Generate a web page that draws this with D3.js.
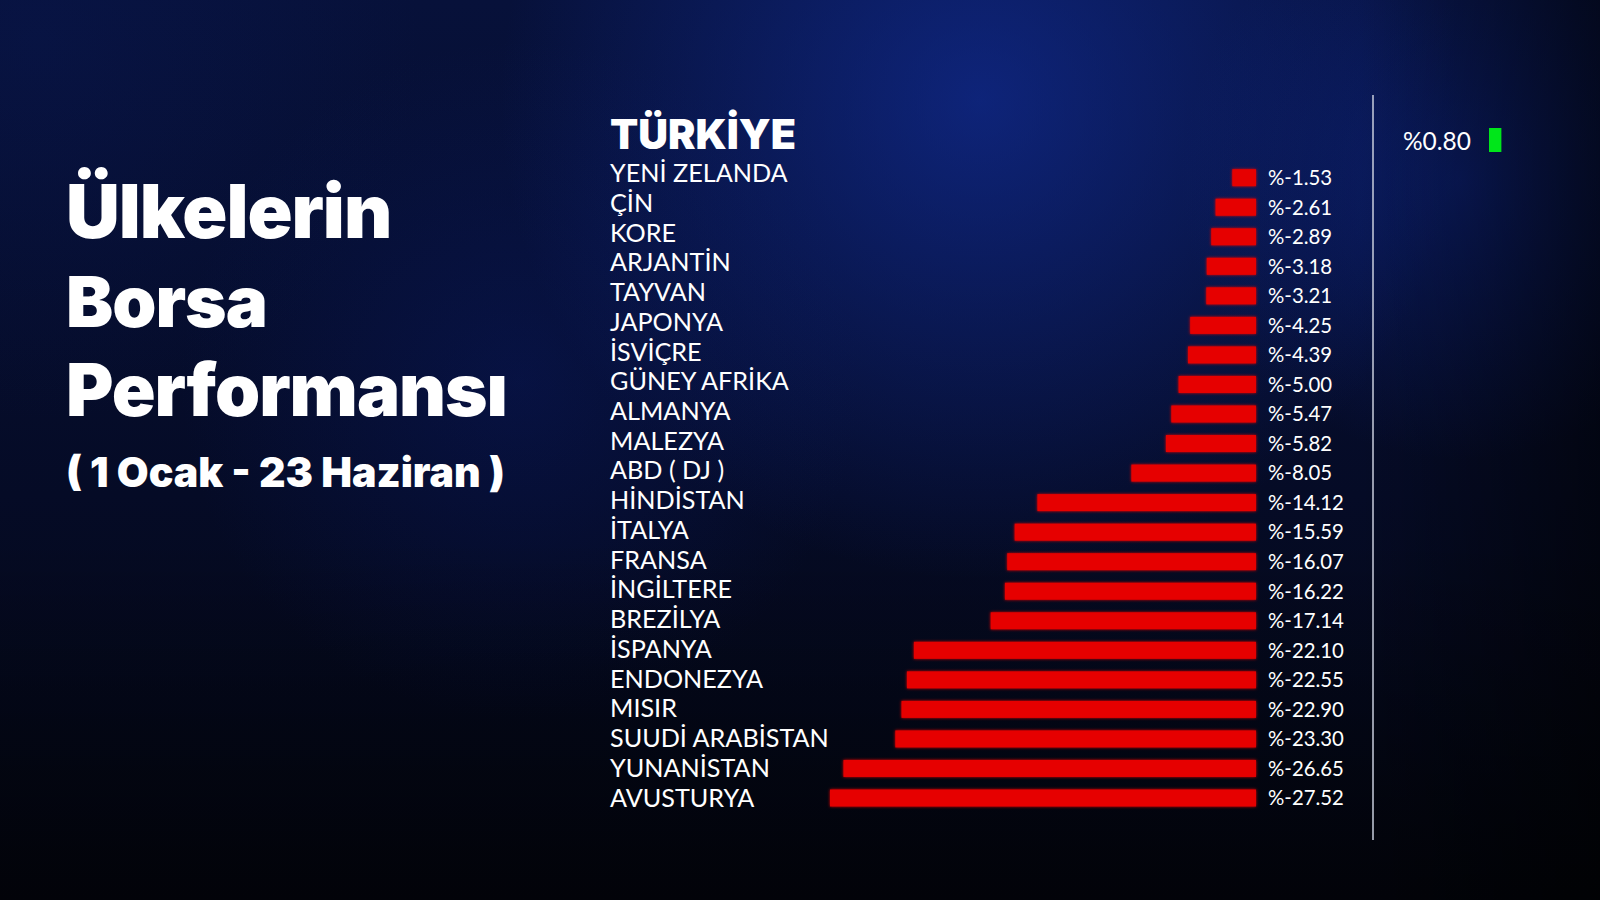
<!DOCTYPE html>
<html>
<head>
<meta charset="utf-8">
<script src="https://cdn.jsdelivr.net/npm/d3@7"></script>
<style>
  html, body { margin: 0; padding: 0; background: #050b22; }
  svg { display: block; }
</style>
</head>
<body>
<svg id="chart" width="1600" height="900"></svg>
<script>
// ---- data ----
const titleLines = ["Ülkelerin", "Borsa", "Performansı"];
const subtitle = "( 1 Ocak - 23 Haziran )";
const highlightCountry = "TÜRKİYE";
const highlightValue = 0.80;
const countries = ["YENİ ZELANDA", "ÇİN", "KORE", "ARJANTİN", "TAYVAN", "JAPONYA", "İSVİÇRE",
  "GÜNEY AFRİKA", "ALMANYA", "MALEZYA", "ABD ( DJ )", "HİNDİSTAN", "İTALYA", "FRANSA",
  "İNGİLTERE", "BREZİLYA", "İSPANYA", "ENDONEZYA", "MISIR", "SUUDİ ARABİSTAN", "YUNANİSTAN", "AVUSTURYA"];
const values = [-1.53, -2.61, -2.89, -3.18, -3.21, -4.25, -4.39, -5.00, -5.47, -5.82, -8.05,
  -14.12, -15.59, -16.07, -16.22, -17.14, -22.10, -22.55, -22.90, -23.30, -26.65, -27.52];

const locale = d3.formatLocale({decimal: ".", thousands: ",", grouping: [3], currency: ["", ""], minus: "-"});
const fmt = v => "%" + locale.format(".2f")(v);

const svg = d3.select("#chart");
const W = 1600, H = 900;

// ---- background ----
const defs = svg.append("defs");
const base = defs.append("linearGradient").attr("id", "bgBase").attr("x1", 0).attr("y1", 0).attr("x2", 0).attr("y2", 1);
base.append("stop").attr("offset", 0).attr("stop-color", "#07113a");
base.append("stop").attr("offset", 0.55).attr("stop-color", "#050b26");
base.append("stop").attr("offset", 1).attr("stop-color", "#030612");

function radial(id, cx, cy, r, color, op) {
  const g = defs.append("radialGradient").attr("id", id)
    .attr("gradientUnits", "userSpaceOnUse").attr("cx", cx).attr("cy", cy).attr("r", r);
  g.append("stop").attr("offset", 0).attr("stop-color", color).attr("stop-opacity", op);
  g.append("stop").attr("offset", 1).attr("stop-color", color).attr("stop-opacity", 0);
  return "url(#" + id + ")";
}
svg.append("rect").attr("width", W).attr("height", H).attr("fill", "url(#bgBase)");
svg.append("rect").attr("width", W).attr("height", H).attr("fill", radial("g1", 980, 100, 480, "#1434b0", 0.55));
svg.append("rect").attr("width", W).attr("height", H).attr("fill", radial("g2", 1460, 180, 280, "#0e2a9a", 0.45));
svg.append("rect").attr("width", W).attr("height", H).attr("fill", radial("g3", 520, 380, 340, "#0b1f7a", 0.30));
svg.append("rect").attr("width", W).attr("height", H).attr("fill", radial("g4", 40, 40, 380, "#0a1a5a", 0.30));
const shade = defs.append("linearGradient").attr("id", "rightShade").attr("x1", 0).attr("x2", 1);
shade.append("stop").attr("offset", 0.85).attr("stop-color", "#000").attr("stop-opacity", 0);
shade.append("stop").attr("offset", 1).attr("stop-color", "#000").attr("stop-opacity", 0.55);
svg.append("rect").attr("width", W).attr("height", H).attr("fill", "url(#rightShade)");
const bshade = defs.append("linearGradient").attr("id", "bottomShade").attr("x1", 0).attr("y1", 0).attr("x2", 0).attr("y2", 1);
bshade.append("stop").attr("offset", 0.6).attr("stop-color", "#000").attr("stop-opacity", 0);
bshade.append("stop").attr("offset", 1).attr("stop-color", "#000").attr("stop-opacity", 0.5);
svg.append("rect").attr("width", W).attr("height", H).attr("fill", "url(#bottomShade)");

// glow filter for bars
const f = defs.append("filter").attr("id", "glow").attr("x", "-5%").attr("y", "-40%").attr("width", "110%").attr("height", "180%");
f.append("feGaussianBlur").attr("in", "SourceGraphic").attr("stdDeviation", 1.6).attr("result", "b");
const m = f.append("feMerge");
m.append("feMergeNode").attr("in", "b");
m.append("feMergeNode").attr("in", "SourceGraphic");

// helper to fit text to a width
function fit(sel, target) {
  const w = sel.node().getComputedTextLength();
  const fs = parseFloat(sel.attr("font-size"));
  sel.attr("font-size", fs * target / w);
}

// ---- title ----
const titleFont = "Inter, 'Open Sans', sans-serif";
const titleBaselines = [238, 327, 416];
const titleWidths = [325, 201, 441];
titleLines.forEach((t, i) => {
  const s = svg.append("text").attr("x", 66).attr("y", titleBaselines[i])
    .attr("font-family", titleFont).attr("font-weight", 900).attr("font-size", 72)
    .attr("letter-spacing", -1)
    .attr("fill", "#ffffff").text(t);
  fit(s, titleWidths[i]);
});
const sub = svg.append("text").attr("x", 66).attr("y", 487)
  .attr("font-family", titleFont).attr("font-weight", 900).attr("font-size", 40)
  .attr("fill", "#ffffff").text(subtitle);
fit(sub, 439);

// ---- chart ----
const xRight = 1256;
const x = d3.scaleLinear().domain([0, d3.max(values, v => Math.abs(v))]).range([0, 426]);
const yBar = d3.scalePoint().domain(countries).range([177.7, 798]);
const yLab = d3.scalePoint().domain(countries).range([173, 797.5]);
const barH = 17;

const labelFont = "Lato, 'Noto Sans', sans-serif";

// highlighted country
const tr = svg.append("text").attr("x", 610).attr("y", 149)
  .attr("font-family", titleFont).attr("font-weight", 900).attr("font-size", 42)
  .attr("fill", "#ffffff").text(highlightCountry);
fit(tr, 186);

// labels
const labels = svg.append("g").selectAll("text").data(countries).join("text")
  .attr("x", 610).attr("y", d => yLab(d)).attr("dy", "0.36em")
  .attr("font-family", labelFont).attr("font-weight", 400).attr("font-size", 24)
  .attr("fill", "#ffffff").text(d => d);
{
  const ref = labels.filter(d => d === "SUUDİ ARABİSTAN").node().getComputedTextLength();
  labels.attr("font-size", 24 * 219 / ref);
}

// bars
svg.append("g").attr("filter", "url(#glow)").selectAll("rect").data(countries).join("rect")
  .attr("x", (d, i) => xRight - x(Math.abs(values[i])))
  .attr("y", d => yBar(d) - barH / 2)
  .attr("width", (d, i) => x(Math.abs(values[i])))
  .attr("height", barH)
  .attr("fill", "#e60000");

// value labels
const vals = svg.append("g").selectAll("text").data(countries).join("text")
  .attr("x", 1268).attr("y", d => yBar(d)).attr("dy", "0.36em")
  .attr("font-family", labelFont).attr("font-weight", 400).attr("font-size", 22)
  .attr("fill", "#ffffff").text((d, i) => fmt(values[i]));
{
  const ref = vals.filter((d, i) => i === values.length - 1).node().getComputedTextLength();
  vals.attr("font-size", 22 * 76 / ref);
}

// separator line
svg.append("line").attr("x1", 1373).attr("x2", 1373).attr("y1", 95).attr("y2", 840)
  .attr("stroke", "#c9cedc").attr("stroke-width", 1.5);

// positive value (Türkiye)
const pv = svg.append("text").attr("x", 1403).attr("y", 150)
  .attr("font-family", labelFont).attr("font-weight", 400).attr("font-size", 26)
  .attr("fill", "#ffffff").text(fmt(highlightValue));
fit(pv, 68);
svg.append("rect").attr("x", 1489).attr("y", 128)
  .attr("width", x(highlightValue)).attr("height", 24)
  .attr("fill", "#00e61a");
</script>
</body>
</html>
